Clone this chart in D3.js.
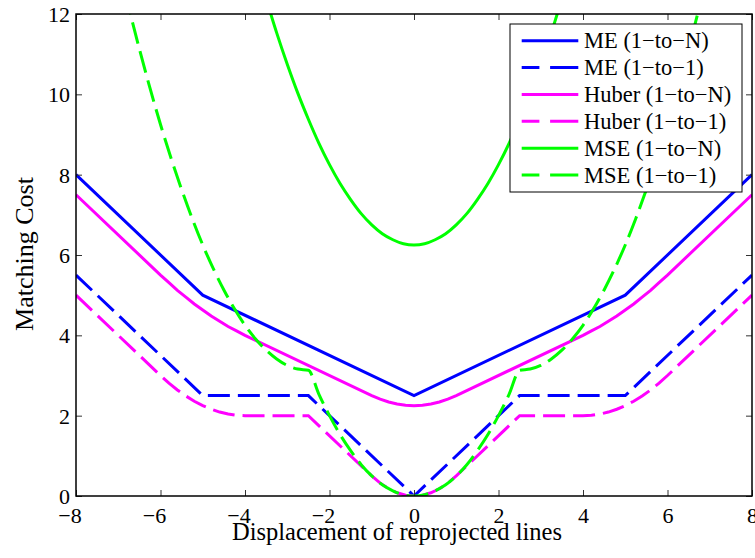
<!DOCTYPE html>
<html>
<head>
<meta charset="utf-8">
<script src="https://cdn.jsdelivr.net/npm/d3@7"></script>
<style>
  html, body { margin: 0; padding: 0; background: #fff; }
  svg { display: block; }
  text { font-family: "Liberation Serif", "Times New Roman", serif; fill: #000; }
</style>
</head>
<body>
<svg id="chart" width="755" height="558"></svg>
<script>
// Tick values
const xTicks = [-8, -6, -4, -2, 0, 2, 4, 6, 8];
const yTicks = [0, 2, 4, 6, 8, 10, 12];

// ME (1-to-N)
const meNX = [-8, -5, 0, 5, 8];
const meNY = [8, 5, 2.5, 5, 8];

// ME (1-to-1)
const me1X = [-8, -5, -2.5, 0, 2.5, 5, 8];
const me1Y = [5.5, 2.5, 2.5, 0, 2.5, 2.5, 5.5];

// Huber (1-to-N)
const huberNX = [-8, -6, -5.8, -5.6, -5.4, -5.2, -5, -4.8, -4.6, -4.4, -4.2, -4,
  -1, -0.8, -0.6, -0.4, -0.2, 0, 0.2, 0.4, 0.6, 0.8, 1,
  4, 4.2, 4.4, 4.6, 4.8, 5, 5.2, 5.4, 5.6, 5.8, 6, 8];
const huberNY = [7.5, 5.5, 5.31, 5.12, 4.95, 4.78, 4.63, 4.48, 4.35, 4.22, 4.11, 4.0,
  2.5, 2.41, 2.34, 2.29, 2.26, 2.25, 2.26, 2.29, 2.34, 2.41, 2.5,
  4.0, 4.11, 4.22, 4.35, 4.48, 4.63, 4.78, 4.95, 5.12, 5.31, 5.5, 7.5];

// Huber (1-to-1)
const huber1X = [-8, -6, -5.8, -5.6, -5.4, -5.2, -5, -4.8, -4.6, -4.4, -4.2, -4, -2.5,
  -1, -0.8, -0.6, -0.4, -0.2, 0, 0.2, 0.4, 0.6, 0.8, 1,
  2.5, 4, 4.2, 4.4, 4.6, 4.8, 5, 5.2, 5.4, 5.6, 5.8, 6, 8];
const huber1Y = [5, 3, 2.81, 2.64, 2.49, 2.36, 2.25, 2.16, 2.09, 2.04, 2.01, 2, 2,
  0.5, 0.32, 0.18, 0.08, 0.02, 0, 0.02, 0.08, 0.18, 0.32, 0.5,
  2, 2, 2.01, 2.04, 2.09, 2.16, 2.25, 2.36, 2.49, 2.64, 2.81, 3, 5];

// MSE (1-to-N)
const mseNX = [-3.5, -3.25, -3, -2.75, -2.5, -2.25, -2, -1.75, -1.5, -1.25, -1, -0.75, -0.5, -0.25,
  0, 0.25, 0.5, 0.75, 1, 1.25, 1.5, 1.75, 2, 2.25, 2.5, 2.75, 3, 3.25, 3.5];
const mseNY = [12.38, 11.53, 10.75, 10.03, 9.38, 8.78, 8.25, 7.78, 7.38, 7.03, 6.75, 6.53, 6.38, 6.28,
  6.25, 6.28, 6.38, 6.53, 6.75, 7.03, 7.38, 7.78, 8.25, 8.78, 9.38, 10.03, 10.75, 11.53, 12.38];

// MSE (1-to-1)
const mse1X = [-7, -6.75, -6.5, -6.25, -6, -5.75, -5.5, -5.25, -5, -4.75, -4.5, -4.25, -4, -3.75,
  -3.5, -3.25, -3, -2.75, -2.5, -2.25, -2, -1.75, -1.5, -1.25, -1, -0.75, -0.5, -0.25,
  0, 0.25, 0.5, 0.75, 1, 1.25, 1.5, 1.75, 2, 2.25, 2.5, 2.75, 3, 3.25, 3.5,
  3.75, 4, 4.25, 4.5, 4.75, 5, 5.25, 5.5, 5.75, 6, 6.25, 6.5, 6.75, 7];
const mse1Y = [13.25, 12.16, 11.13, 10.16, 9.25, 8.41, 7.63, 6.91, 6.25, 5.66, 5.13, 4.66, 4.25, 3.91,
  3.63, 3.41, 3.25, 3.16, 3.13, 2.53, 2, 1.53, 1.13, 0.78, 0.5, 0.28, 0.13, 0.03,
  0, 0.03, 0.13, 0.28, 0.5, 0.78, 1.13, 1.53, 2, 2.53, 3.13, 3.16, 3.25, 3.41, 3.63,
  3.91, 4.25, 4.66, 5.13, 5.66, 6.25, 6.91, 7.63, 8.41, 9.25, 10.16, 11.13, 12.16, 13.25];

const seriesNames = ["ME (1\u2212to\u2212N)", "ME (1\u2212to\u22121)", "Huber (1\u2212to\u2212N)",
  "Huber (1\u2212to\u22121)", "MSE (1\u2212to\u2212N)", "MSE (1\u2212to\u22121)"];

const zip = (xs, ys) => xs.map((v, i) => [v, ys[i]]);
const series = [
  { name: seriesNames[0], pts: zip(meNX, meNY), color: "#0000ff", dashed: false, smooth: false },
  { name: seriesNames[1], pts: zip(me1X, me1Y), color: "#0000ff", dashed: true, smooth: false },
  { name: seriesNames[2], pts: zip(huberNX, huberNY), color: "#ff00ff", dashed: false, smooth: false },
  { name: seriesNames[3], pts: zip(huber1X, huber1Y), color: "#ff00ff", dashed: true, smooth: false },
  { name: seriesNames[4], pts: zip(mseNX, mseNY), color: "#00ff00", dashed: false, smooth: true },
  { name: seriesNames[5], pts: zip(mse1X, mse1Y), color: "#00ff00", dashed: true, smooth: true }
];

const svg = d3.select("#chart");
const L = 76, R = 752, T = 14, B = 496;
const x = d3.scaleLinear().domain([-8, 8]).range([L, R]);
const y = d3.scaleLinear().domain([0, 12]).range([B, T]);

const fmt = d => d < 0 ? "\u2212" + Math.abs(d) : String(d);
const tickFont = 22;

// clip region for the curves
svg.append("defs").append("clipPath").attr("id", "plotClip")
  .append("rect").attr("x", L).attr("y", T).attr("width", R - L).attr("height", B - T);

// curves
const plot = svg.append("g").attr("clip-path", "url(#plotClip)");
series.forEach(s => {
  const line = d3.line()
    .x(d => x(d[0])).y(d => y(d[1]))
    .curve(s.smooth ? d3.curveMonotoneX : d3.curveLinear);
  plot.append("path")
    .datum(s.pts)
    .attr("d", line)
    .attr("fill", "none")
    .attr("stroke", s.color)
    .attr("stroke-width", 3)
    .attr("stroke-dasharray", s.dashed ? "22,8" : null);
});

// axes (ticks inward on all four sides)
function styleAxis(g) {
  g.select(".domain").remove();
  g.selectAll(".tick line").attr("stroke", "#333").attr("stroke-width", 1);
}
const axBottom = svg.append("g").attr("transform", `translate(0,${B})`)
  .call(d3.axisBottom(x).tickValues(xTicks).tickSize(-6).tickPadding(0).tickFormat(fmt));
styleAxis(axBottom);
axBottom.selectAll(".tick text")
  .attr("font-size", tickFont).attr("y", 27).attr("dy", 0)
  .attr("dx", d => d < 0 ? -6.5 : 0);

const axTop = svg.append("g").attr("transform", `translate(0,${T})`)
  .call(d3.axisTop(x).tickValues(xTicks).tickSize(-6).tickFormat(""));
styleAxis(axTop);

const axLeft = svg.append("g").attr("transform", `translate(${L},0)`)
  .call(d3.axisLeft(y).tickValues(yTicks).tickSize(-6).tickPadding(0).tickFormat(fmt));
styleAxis(axLeft);
axLeft.selectAll(".tick text")
  .attr("font-size", tickFont).attr("x", -6).attr("dy", "0.34em");

const axRight = svg.append("g").attr("transform", `translate(${R},0)`)
  .call(d3.axisRight(y).tickValues(yTicks).tickSize(-6).tickFormat(""));
styleAxis(axRight);

// frame
svg.append("rect").attr("x", L).attr("y", T).attr("width", R - L).attr("height", B - T)
  .attr("fill", "none").attr("stroke", "#000").attr("stroke-width", 1.5);

// axis titles
svg.append("text").attr("x", 397).attr("y", 540).attr("text-anchor", "middle")
  .attr("font-size", 24.5).text("Displacement of reprojected lines");
svg.append("text").attr("transform", "translate(33,254) rotate(-90)").attr("text-anchor", "middle")
  .attr("font-size", 26).text("Matching Cost");

// legend
const lg = svg.append("g");
lg.append("rect").attr("x", 510).attr("y", 24).attr("width", 232).attr("height", 168)
  .attr("fill", "#fff").attr("stroke", "#000").attr("stroke-width", 1);
series.forEach((s, i) => {
  const yy = 40.7 + i * 26.86;
  lg.append("line").attr("x1", 521.7).attr("x2", 578.3).attr("y1", yy).attr("y2", yy)
    .attr("stroke", s.color).attr("stroke-width", 3)
    .attr("stroke-dasharray", s.dashed ? "17.7,10.7,28.2" : null);
  lg.append("text").attr("x", 584).attr("y", yy).attr("dy", "0.34em")
    .attr("font-size", 22.5).text(s.name);
});
</script>
</body>
</html>
